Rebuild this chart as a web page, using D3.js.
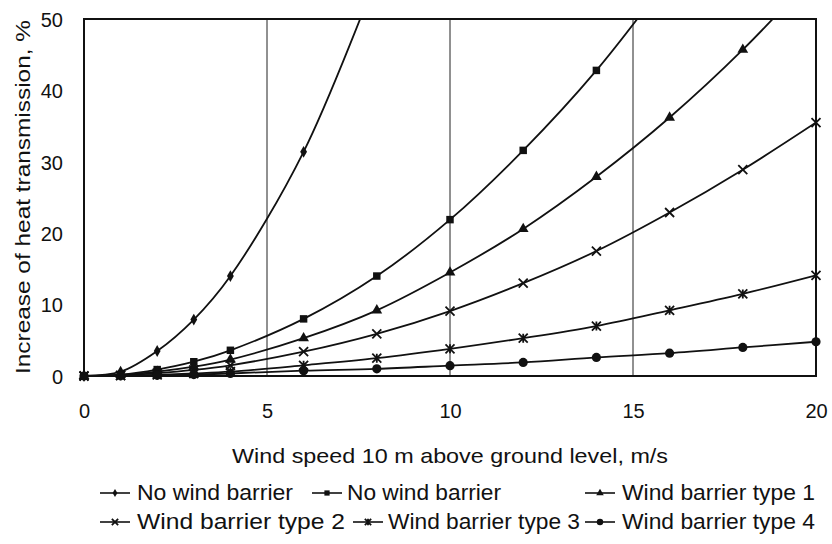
<!DOCTYPE html>
<html><head><meta charset="utf-8">
<script src="https://cdn.jsdelivr.net/npm/d3@7"></script>
<style>
html,body{margin:0;padding:0;background:#fff;}
svg{display:block;font-family:"Liberation Sans",Arial,sans-serif;}
</style></head>
<body><svg id="chart" width="832" height="544"></svg>
<script>
// ---- data ----
const xTicks = [0, 5, 10, 15, 20];
const yTicks = [0, 10, 20, 30, 40, 50];
const gridX = [5, 10, 15];
const seriesNames = ["No wind barrier", "No wind barrier", "Wind barrier type 1",
                     "Wind barrier type 2", "Wind barrier type 3", "Wind barrier type 4"];
const seriesMarkers = ["diamond", "square", "triangle", "x", "star", "circle"];
const speedsNoBarrierA = [0, 1, 2, 3, 4, 6, 8];
const valuesNoBarrierA = [0, 0.6, 3.5, 7.9, 14.0, 31.4, 56];
const speedsNoBarrierB = [0, 1, 2, 3, 4, 6, 8, 10, 12, 14, 16];
const valuesNoBarrierB = [0, 0.2, 0.9, 2.0, 3.6, 8.0, 14.0, 21.9, 31.6, 42.8, 56];
const speedsBarrier = [0, 1, 2, 3, 4, 6, 8, 10, 12, 14, 16, 18, 20];
const valuesType1 = [0, 0.15, 0.6, 1.3, 2.3, 5.3, 9.2, 14.5, 20.6, 27.9, 36.2, 45.7, 56.5];
const valuesType2 = [0, 0.1, 0.4, 0.85, 1.5, 3.4, 5.9, 9.1, 13.0, 17.5, 22.9, 28.9, 35.5];
const valuesType3 = [0, 0.04, 0.15, 0.35, 0.6, 1.5, 2.5, 3.8, 5.3, 7.0, 9.2, 11.5, 14.1];
const valuesType4 = [0, 0.02, 0.1, 0.2, 0.35, 0.75, 1.0, 1.45, 1.9, 2.6, 3.2, 4.0, 4.8];
const xTitle = "Wind speed 10 m above ground level, m/s";
const yTitle = "Increase of heat transmission, %";

const seriesX = [speedsNoBarrierA, speedsNoBarrierB, speedsBarrier, speedsBarrier, speedsBarrier, speedsBarrier];
const seriesY = [valuesNoBarrierA, valuesNoBarrierB, valuesType1, valuesType2, valuesType3, valuesType4];
const series = seriesNames.map((n, i) => ({
  name: n, marker: seriesMarkers[i],
  points: seriesX[i].map((x, j) => ({x, y: seriesY[i][j]}))
}));

// ---- layout ----
const svg = d3.select("#chart");
const L = 84, R = 816, T = 19, B = 376;
const x = d3.scaleLinear().domain([0, 20]).range([L, R]);
const y = d3.scaleLinear().domain([0, 50]).range([B, T]);

svg.append("defs").append("clipPath").attr("id", "plotClip")
  .append("rect").attr("x", L).attr("y", T).attr("width", R - L).attr("height", B - T);

// vertical grid lines
svg.append("g").selectAll("line").data(gridX).join("line")
  .attr("x1", d => x(d)).attr("x2", d => x(d)).attr("y1", T).attr("y2", B)
  .attr("stroke", "#222").attr("stroke-width", 1);

// axes
const xAxis = svg.append("g").attr("transform", `translate(0,${B})`)
  .call(d3.axisBottom(x).tickValues(xTicks).tickSize(0).tickPadding(28));
const yAxis = svg.append("g").attr("transform", `translate(${L},0)`)
  .call(d3.axisLeft(y).tickValues(yTicks).tickSize(0).tickPadding(21));
[xAxis, yAxis].forEach(a => {
  a.select(".domain").remove();
  a.selectAll("text").attr("font-size", 20).attr("fill", "#111")
    .attr("font-family", '"Liberation Sans",Arial,sans-serif');
});
yAxis.selectAll("text").attr("dy", "0.36em");

// frame
svg.append("rect").attr("x", L).attr("y", T).attr("width", R - L).attr("height", B - T)
  .attr("fill", "none").attr("stroke", "#111").attr("stroke-width", 2);

// markers
function drawMarker(g, type, k) {
  if (type === "diamond") {
    g.append("path").attr("d", d3.symbol(d3.symbolDiamond, 40 * k * k)()).attr("fill", "#111");
  } else if (type === "square") {
    g.append("path").attr("d", d3.symbol(d3.symbolSquare, 56 * k * k)()).attr("fill", "#111");
  } else if (type === "triangle") {
    g.append("path").attr("d", d3.symbol(d3.symbolTriangle, 50 * k * k)()).attr("fill", "#111");
  } else if (type === "circle") {
    g.append("circle").attr("r", 4.6 * k).attr("fill", "#111");
  } else {
    const h = 4.5 * k;
    g.append("path").attr("d", `M${-h},${-h}L${h},${h}M${-h},${h}L${h},${-h}` + (type === "star" ? `M0,${-h}L0,${h}` : ""))
      .attr("stroke", "#111").attr("stroke-width", 1.8).attr("fill", "none");
  }
}

const line = d3.line().x(d => x(d.x)).y(d => y(d.y)).curve(d3.curveCatmullRom.alpha(0.5));
const plot = svg.append("g").attr("clip-path", "url(#plotClip)");
series.forEach(s => {
  plot.append("path").attr("d", line(s.points)).attr("fill", "none")
    .attr("stroke", "#111").attr("stroke-width", 1.8);
});
const markers = svg.append("g");
series.forEach(s => {
  s.points.filter(p => p.y <= 50).forEach(p => {
    const g = markers.append("g").attr("transform", `translate(${x(p.x)},${y(p.y)})`);
    drawMarker(g, s.marker, 1);
  });
});

// axis titles
svg.append("text").attr("x", (232 + 668) / 2).attr("y", 463).attr("text-anchor", "middle")
  .attr("font-size", 21).attr("fill", "#111")
  .attr("textLength", 436).attr("lengthAdjust", "spacingAndGlyphs").text(xTitle);
svg.append("text").attr("transform", "translate(30,197) rotate(-90)").attr("text-anchor", "middle")
  .attr("font-size", 21).attr("fill", "#111")
  .attr("textLength", 354).attr("lengthAdjust", "spacingAndGlyphs").text(yTitle);

// legend
const legendPos = [
  {sx: 100, tx: 137, ty: 500, tw: 156},
  {sx: 312, tx: 347, ty: 500, tw: 154},
  {sx: 585, tx: 622, ty: 500, tw: 193},
  {sx: 100, tx: 137, ty: 529, tw: 208},
  {sx: 353, tx: 388, ty: 529, tw: 192},
  {sx: 585, tx: 622, ty: 529, tw: 193}
];
series.forEach((s, i) => {
  const p = legendPos[i];
  const g = svg.append("g");
  g.append("line").attr("x1", p.sx).attr("x2", p.sx + 30).attr("y1", p.ty - 7).attr("y2", p.ty - 7)
    .attr("stroke", "#111").attr("stroke-width", 1.6);
  const m = g.append("g").attr("transform", `translate(${p.sx + 15},${p.ty - 7})`);
  drawMarker(m, s.marker, 0.7);
  g.append("text").attr("x", p.tx).attr("y", p.ty).attr("font-size", 22).attr("fill", "#111")
    .attr("textLength", p.tw).attr("lengthAdjust", "spacingAndGlyphs").text(s.name);
});
</script></body></html>
